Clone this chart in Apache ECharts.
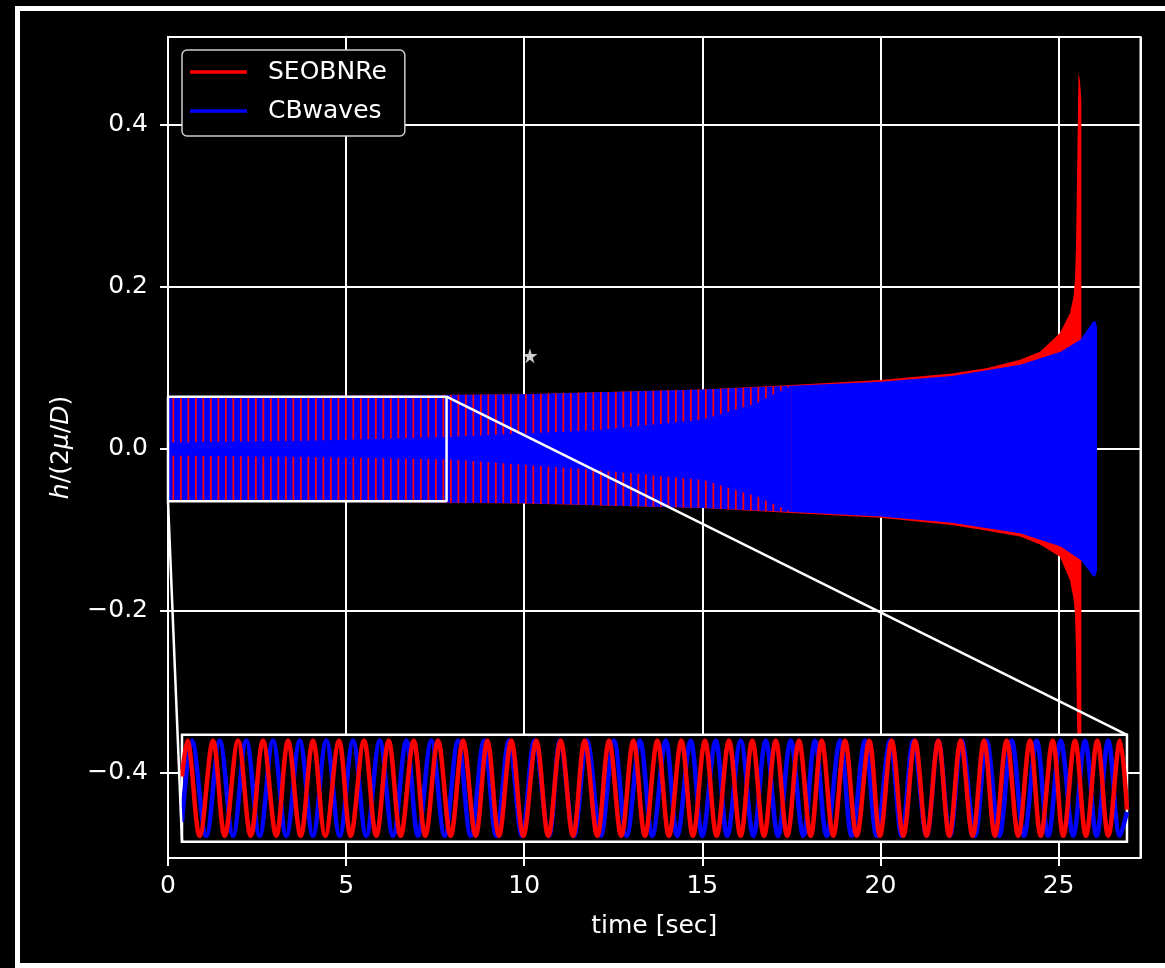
<!DOCTYPE html>
<html>
<head>
<meta charset="utf-8">
<title>SEOBNRe vs CBwaves</title>
<script src="https://cdn.jsdelivr.net/npm/echarts@6.0.0/dist/echarts.min.js"></script>
<style>
  html, body { margin: 0; padding: 0; background: #000; }
  #chart { width: 1165px; height: 968px; }
</style>
</head>
<body>
<div id="chart"></div>
<script>
// envelope of the SEOBNRe waveform (time in s, h/(2mu/D))
const seobTimes = [0, 5, 10, 15, 17.5, 20, 22, 23, 23.92, 24.48, 25.04, 25.32, 25.42, 25.46, 25.49, 25.52, 25.56, 25.6, 25.64];
const seobUpper = [0.0645, 0.0655, 0.0675, 0.0735, 0.079, 0.085, 0.093, 0.100, 0.110, 0.120, 0.143, 0.1675, 0.188, 0.209, 0.25, 0.34, 0.464, 0.455, 0.43];
const seobLower = [-0.0645, -0.0655, -0.0675, -0.073, -0.079, -0.085, -0.094, -0.101, -0.108, -0.118, -0.133, -0.162, -0.185, -0.203, -0.25, -0.34, -0.46, -0.455, -0.43];

// envelope of the CBwaves waveform
const cbTimes = [0, 5, 10, 15, 17.5, 20, 22, 23.92, 25.06, 25.62, 25.9, 25.98, 26.04, 26.08];
const cbUpper = [0.0645, 0.0655, 0.0675, 0.0735, 0.078, 0.083, 0.090, 0.104, 0.120, 0.135, 0.153, 0.158, 0.157, 0.150];
const cbLower = [-0.0645, -0.0655, -0.067, -0.073, -0.078, -0.0835, -0.091, -0.104, -0.1206, -0.137, -0.153, -0.158, -0.156, -0.150];

// up to stripeEnd the two curves alias into red/blue stripes, with a solid blue core in the middle
const stripeEnd = 17.5;
const coreTimes = [0, 4, 8, 12, 15, 16.5, 17.5];
const coreUpper = [0.008, 0.010, 0.015, 0.023, 0.036, 0.056, 0.078];
const coreLower = [-0.008, -0.010, -0.013, -0.026, -0.038, -0.058, -0.078];

// zoomed window: x in % of the window width, amplitude normalised to the peaks
const seobPeaks = [0.56, 3.28, 5.93, 8.57, 11.22, 13.86, 16.61, 19.26, 21.87, 24.52, 27.09, 29.74, 32.31, 34.85, 37.49, 40.07, 42.61, 45.19, 47.76, 50.30, 52.84, 55.34, 57.88, 60.35, 62.83, 65.29, 67.69, 70.16, 72.73, 75.10, 77.57, 80.03, 82.40, 84.87, 87.27, 89.74, 92.14, 94.50, 96.86, 99.26];
const seobTroughs = [1.87, 4.52, 7.27, 9.98, 12.56, 15.16, 17.85, 20.56, 23.14, 25.75, 28.43, 31.08, 33.54, 36.12, 38.76, 41.38, 43.95, 46.49, 48.99, 51.53, 54.07, 56.58, 59.12, 61.59, 64.05, 66.53, 68.92, 71.40, 73.86, 76.33, 78.80, 81.20, 83.67, 86.03, 88.50, 90.87, 93.26, 95.66, 98.02];
const cbPeaks = [1.06, 3.99, 6.80, 9.63, 12.46, 15.27, 18.10, 20.92, 23.74, 26.38, 29.21, 31.96, 34.60, 37.30, 40.00, 42.86, 45.71, 48.47, 51.19, 53.83, 56.48, 59.12, 61.77, 64.41, 66.98, 69.63, 72.28, 74.92, 77.39, 80.03, 82.51, 85.15, 87.80, 90.44, 92.98, 95.56, 98.02];
const cbTroughs = [2.57, 5.40, 8.22, 11.04, 13.86, 16.69, 19.50, 22.33, 24.97, 27.80, 30.55, 33.26, 35.98, 38.84, 41.48, 44.31, 47.06, 49.77, 52.41, 55.06, 57.70, 60.46, 63.07, 65.75, 68.22, 70.87, 73.51, 76.16, 78.80, 81.27, 83.92, 86.49, 89.10, 91.67, 94.32, 96.79, 99.26];
const seobEdges = [0.25, -0.45]; // value at the left / right border of the window
const cbEdges = [-0.71, -0.5];

// zoom rectangle and where the inset sits, in data units of the main axes
const zoomBox = { t0: 0, t1: 7.82, h0: -0.0645, h1: 0.0645 };
const insetBox = { t0: 0.393, t1: 26.92, h0: -0.485, h1: -0.353 };
const marker = [10.16, 0.115];

const RED = '#ff0000';
const BLUE = '#0000ff';
const FONT = 'DejaVu Sans';

const chart = echarts.init(document.getElementById('chart'));

function fmtY(v) {
  const s = Math.abs(v).toFixed(1);
  return v < -1e-9 ? '\u2212' + s : s;
}

const mainGrid = { left: 168, top: 37, right: 24.5, bottom: 110, show: true, borderColor: '#fff', borderWidth: 2 };
const mainX = {
  type: 'value', min: 0, max: 27.3, interval: 5,
  name: 'time [sec]', nameLocation: 'middle', nameGap: 56,
  nameTextStyle: { color: '#fff', fontSize: 25, fontFamily: FONT },
  axisLine: { show: true, onZero: false, lineStyle: { color: '#fff', width: 2 } },
  axisTick: { show: true, length: 8, lineStyle: { color: '#fff', width: 2 } },
  axisLabel: { color: '#fff', fontSize: 25, fontFamily: FONT, margin: 16, showMaxLabel: false },
  splitLine: { show: true, lineStyle: { color: '#fff', width: 2 } }
};
const mainY = {
  type: 'value', min: -0.505, max: 0.5085, splitNumber: 5,
  name: '{i|h}/(2{i|\u03bc}/{i|D})', nameLocation: 'middle', nameRotate: 90, nameGap: 94,
  nameTextStyle: {
    color: '#fff', fontSize: 25, fontFamily: FONT,
    rich: { i: { color: '#fff', fontSize: 25, fontFamily: FONT, fontStyle: 'italic' } }
  },
  axisLine: { show: true, onZero: false, lineStyle: { color: '#fff', width: 2 } },
  axisTick: { show: true, length: 8, lineStyle: { color: '#fff', width: 2 } },
  axisLabel: { color: '#fff', fontSize: 25, fontFamily: FONT, margin: 20, showMinLabel: false, showMaxLabel: false, formatter: fmtY },
  splitLine: { show: true, lineStyle: { color: '#fff', width: 2 } }
};

// first pass only to find where the inset goes in pixels
chart.setOption({ animation: false, grid: [mainGrid], xAxis: [mainX], yAxis: [mainY], series: [] });
const tl = chart.convertToPixel({ gridIndex: 0 }, [insetBox.t0, insetBox.h1]);
const br = chart.convertToPixel({ gridIndex: 0 }, [insetBox.t1, insetBox.h0]);

function stripePattern() {
  const c = document.createElement('canvas');
  c.width = 15; c.height = 4;
  const g = c.getContext('2d');
  g.fillStyle = BLUE; g.fillRect(0, 0, 15, 4);
  g.fillStyle = RED;
  g.fillRect(0, 0, 1.7, 4);
  g.fillRect(7.5, 0, 1.7, 4);
  return { image: c, repeat: 'repeat' };
}

// polygon between an upper and a lower envelope, limited to [from, to]
function band(name, times, upper, lower, fill, z, from, to) {
  const idx = [];
  times.forEach((t, i) => { if (t >= from && t <= to) idx.push(i); });
  return {
    type: 'custom', name: name, z: z, silent: true,
    itemStyle: { color: typeof fill === 'string' ? fill : BLUE },
    data: [[times[idx[0]], 0]],
    renderItem: function (params, api) {
      const pts = [];
      idx.forEach(i => pts.push(api.coord([times[i], upper[i]])));
      idx.slice().reverse().forEach(i => pts.push(api.coord([times[i], lower[i]])));
      return { type: 'polygon', shape: { points: pts }, style: { fill: fill, stroke: null } };
    }
  };
}

function wave(peaks, troughs, edges) {
  const pts = [[0, edges[0]]];
  peaks.forEach(x => pts.push([x, 1]));
  troughs.forEach(x => pts.push([x, -1]));
  pts.push([100, edges[1]]);
  return pts.sort((a, b) => a[0] - b[0]);
}

const whiteLine = { color: '#fff', width: 2.5 };

chart.setOption({
  animation: false,
  backgroundColor: '#000',
  textStyle: { fontFamily: FONT },
  graphic: [{
    type: 'rect', shape: { x: 17.5, y: 8.5, width: 1170, height: 957 },
    style: { fill: null, stroke: '#fff', lineWidth: 5 }, silent: true
  }],
  legend: {
    data: [
      { name: 'SEOBNRe', itemStyle: { color: RED } },
      { name: 'CBwaves', itemStyle: { color: BLUE } }
    ],
    orient: 'vertical', left: 182, top: 50, icon: 'rect',
    itemWidth: 57, itemHeight: 3.5, itemGap: 9,
    padding: [7, 18, 10, 8],
    backgroundColor: '#000', borderColor: '#cccccc', borderWidth: 1.5, borderRadius: 5,
    textStyle: { color: '#fff', fontSize: 25, fontFamily: FONT, lineHeight: 30, padding: [0, 0, 0, 16] },
    z: 12
  },
  grid: [mainGrid, {
    left: tl[0], top: tl[1], width: br[0] - tl[0], height: br[1] - tl[1],
    show: true, backgroundColor: '#000', borderColor: '#fff', borderWidth: 2.5, z: 8
  }],
  xAxis: [mainX, { type: 'value', gridIndex: 1, min: 0, max: 100, show: false }],
  yAxis: [mainY, { type: 'value', gridIndex: 1, min: -1.126, max: 1.126, show: false }],
  series: [
    band('SEOBNRe', seobTimes, seobUpper, seobLower, RED, 2, 0, 99),
    band('CBwaves stripes', cbTimes, cbUpper, cbLower, stripePattern(), 3, 0, stripeEnd),
    band('CBwaves core', coreTimes, coreUpper, coreLower, BLUE, 3, 0, stripeEnd),
    band('CBwaves', cbTimes, cbUpper, cbLower, BLUE, 3, stripeEnd, 99),
    {
      type: 'line', name: 'zoom box', z: 6, symbol: 'none', silent: true,
      data: [[zoomBox.t0, zoomBox.h0], [zoomBox.t1, zoomBox.h0], [zoomBox.t1, zoomBox.h1], [zoomBox.t0, zoomBox.h1], [zoomBox.t0, zoomBox.h0]],
      lineStyle: whiteLine
    },
    {
      type: 'line', name: 'connector top', z: 10, symbol: 'none', silent: true,
      data: [[zoomBox.t1, zoomBox.h1], [insetBox.t1, insetBox.h1]],
      lineStyle: whiteLine
    },
    {
      type: 'line', name: 'connector bottom', z: 10, symbol: 'none', silent: true,
      data: [[zoomBox.t0, zoomBox.h0], [insetBox.t0, insetBox.h0]],
      lineStyle: whiteLine
    },
    {
      type: 'scatter', name: 'marker', z: 10, silent: true,
      symbol: 'path://M50,0 L61,35 L98,35 L68,57 L79,91 L50,70 L21,91 L32,57 L2,35 L39,35 Z',
      symbolSize: 15, itemStyle: { color: '#fff' },
      data: [marker]
    },
    {
      type: 'line', name: 'CBwaves zoom', xAxisIndex: 1, yAxisIndex: 1, z: 9,
      symbol: 'none', smooth: 0.36, silent: true,
      data: wave(cbPeaks, cbTroughs, cbEdges),
      lineStyle: { color: BLUE, width: 4.5 }
    },
    {
      type: 'line', name: 'SEOBNRe zoom', xAxisIndex: 1, yAxisIndex: 1, z: 9,
      symbol: 'none', smooth: 0.36, silent: true,
      data: wave(seobPeaks, seobTroughs, seobEdges),
      lineStyle: { color: RED, width: 4.5 }
    }
  ]
}, true);
</script>
</body>
</html>
